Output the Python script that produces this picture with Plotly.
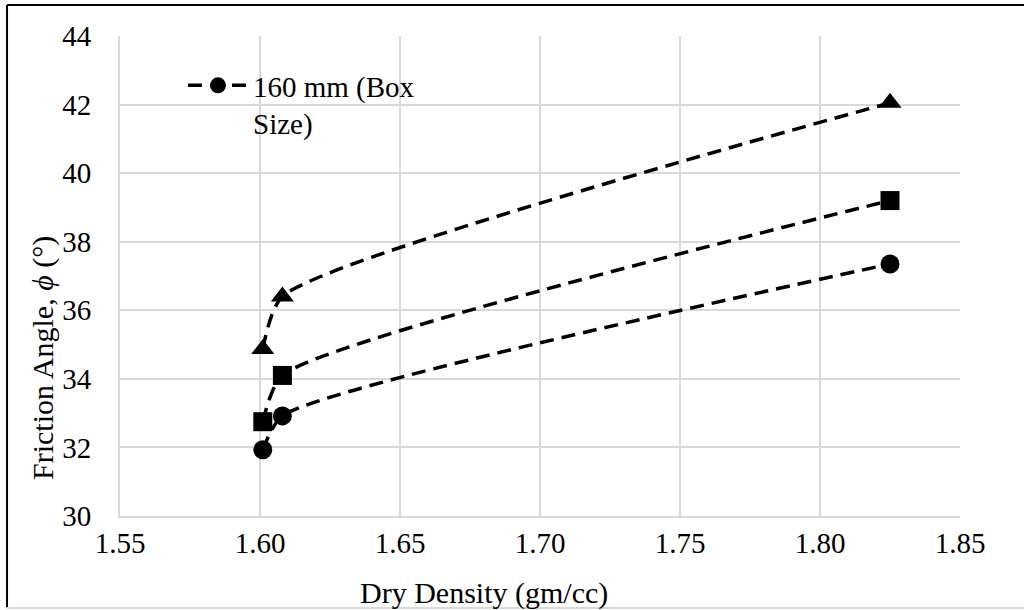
import plotly.graph_objects as go

# Data
dry_density = [1.601, 1.608, 1.825]
phi_circle = [31.93, 32.92, 37.35]
phi_square = [32.75, 34.10, 39.20]
phi_triangle = [34.87, 36.40, 42.05]

x_ticks = [1.55, 1.60, 1.65, 1.70, 1.75, 1.80, 1.85]
x_ticktext = ["1.55", "1.60", "1.65", "1.70", "1.75", "1.80", "1.85"]
y_ticks = [30, 32, 34, 36, 38, 40, 42, 44]

series = [
    ("160 mm (Box<br>Size)", phi_circle, "circle", 19, True),
    ("square", phi_square, "square", 19, False),
    ("triangle", phi_triangle, "triangle-up", 20, False),
]

fig = go.Figure()
for name, ys, sym, sz, show in series:
    fig.add_trace(go.Scatter(
        x=dry_density, y=ys, name=name, mode="lines+markers",
        line=dict(color="black", width=3.5, dash="14px,8px", shape="spline", smoothing=0.6),
        marker=dict(symbol=sym, size=sz, color="black"),
        showlegend=show,
    ))

font = "Liberation Serif, Times New Roman, serif"
FS = 29
fig.update_layout(
    width=1024, height=610,
    margin=dict(l=120, r=64, t=36, b=94),
    paper_bgcolor="white", plot_bgcolor="white",
    font=dict(family=font, size=FS, color="black"),
    showlegend=True,
    legend=dict(x=0.075, y=0.95, xanchor="left", yanchor="top",
                bgcolor="rgba(0,0,0,0)", valign="top",
                font=dict(family=font, size=FS), itemwidth=60),
    xaxis=dict(range=[1.55, 1.85], tickvals=x_ticks, ticktext=x_ticktext,
               showgrid=True, gridcolor="#d9d9d9", gridwidth=2,
               zeroline=False, showline=True, linecolor="#d9d9d9", linewidth=2,
               ticks="", ticklabelstandoff=0, tickfont=dict(size=FS)),
    yaxis=dict(range=[30, 44], tickvals=y_ticks,
               showgrid=True, gridcolor="#d9d9d9", gridwidth=2,
               zeroline=False, showline=True, linecolor="#d9d9d9", linewidth=2,
               ticks="", ticklabelstandoff=21, tickfont=dict(size=FS)),
)

# Axis titles (placed as in the reference)
fig.add_annotation(text="Dry Density (gm/cc)", xref="paper", yref="paper",
                   x=(484 - 120) / 840, y=(516 - 593) / 480, xanchor="center", yanchor="middle",
                   showarrow=False, font=dict(family=font, size=FS + 1))
fig.add_annotation(text="Friction Angle, <i>ϕ</i> (°)", xref="paper", yref="paper",
                   x=(43 - 120) / 840, y=(516 - 358) / 480, xanchor="center", yanchor="middle",
                   textangle=-90, showarrow=False, font=dict(family=font, size=FS + 1))

# Outer chart border (black left/top, light gray bottom)
fig.add_shape(type="line", xref="paper", yref="paper", x0=-0.1345, x1=1.1, y0=1.0646, y1=1.0646,
              line=dict(color="black", width=2))
fig.add_shape(type="line", xref="paper", yref="paper", x0=-0.1345, x1=-0.1345, y0=-0.19, y1=1.0646,
              line=dict(color="black", width=2))
fig.add_shape(type="line", xref="paper", yref="paper", x0=-0.1345, x1=1.1, y0=-0.1917, y1=-0.1917,
              line=dict(color="#d9d9d9", width=2))

fig.write_html("out.html")
